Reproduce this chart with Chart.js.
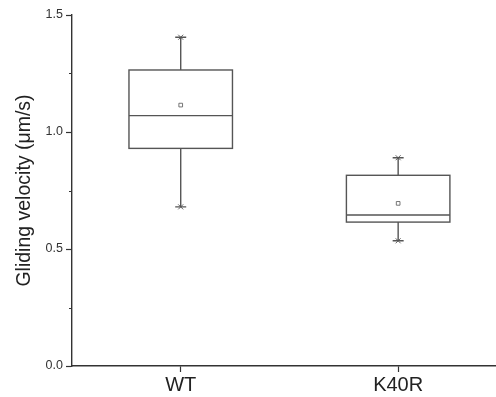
<!DOCTYPE html>
<html>
<head>
<meta charset="utf-8">
<script src="https://cdn.jsdelivr.net/npm/chart.js@4/dist/chart.umd.min.js"></script>
<style>
  html, body { margin: 0; padding: 0; background: #fff; overflow: hidden; }
  #wrap { width: 496px; height: 397px; }
  canvas { display: block; }
</style>
</head>
<body>
<div id="wrap"><canvas id="boxChart"></canvas></div>
<script>
// ── Data ──
const categories = ['WT', 'K40R'];
const minValues = [0.68, 0.535];
const q1Values = [0.93, 0.615];
const medianValues = [1.07, 0.645];
const q3Values = [1.265, 0.815];
const maxValues = [1.405, 0.89];
const meanValues = [1.115, 0.695];
const yTicks = [0.0, 0.5, 1.0, 1.5];
const yMinorTicks = [0.25, 0.75, 1.25];

const lineColor = '#555';
const axisColor = '#333';
const boxWidth = 0.476;   // in category units

// Draws box, median and whiskers through the chart scales
const boxPlotPlugin = {
    id: 'boxPlot',
    beforeDatasetsDraw(chart) {
        const { ctx, scales: { x, y } } = chart;
        ctx.save();
        ctx.strokeStyle = lineColor;
        ctx.lineWidth = 1.4;
        categories.forEach((cat, i) => {
            const cx = x.getPixelForValue(i + 1);
            const left = x.getPixelForValue(i + 1 - boxWidth / 2);
            const right = x.getPixelForValue(i + 1 + boxWidth / 2);
            const yq1 = y.getPixelForValue(q1Values[i]);
            const yq3 = y.getPixelForValue(q3Values[i]);
            const ymed = y.getPixelForValue(medianValues[i]);
            const ymin = y.getPixelForValue(minValues[i]);
            const ymax = y.getPixelForValue(maxValues[i]);

            ctx.strokeRect(left, yq3, right - left, yq1 - yq3);

            ctx.beginPath();
            ctx.moveTo(left, ymed); ctx.lineTo(right, ymed);
            // whiskers
            ctx.moveTo(cx, yq3); ctx.lineTo(cx, ymax);
            ctx.moveTo(cx, yq1); ctx.lineTo(cx, ymin);
            // caps
            ctx.moveTo(cx - 5.5, ymax); ctx.lineTo(cx + 5.5, ymax);
            ctx.moveTo(cx - 5.5, ymin); ctx.lineTo(cx + 5.5, ymin);
            ctx.stroke();

            // small crosses at min / max
            ctx.lineWidth = 0.9;
            ctx.beginPath();
            [ymin, ymax].forEach(py => {
                ctx.moveTo(cx - 2.5, py - 2.5); ctx.lineTo(cx + 2.5, py + 2.5);
                ctx.moveTo(cx - 2.5, py + 2.5); ctx.lineTo(cx + 2.5, py - 2.5);
            });
            ctx.stroke();
            ctx.lineWidth = 1.4;
        });

        // minor ticks on y axis
        ctx.strokeStyle = axisColor;
        ctx.lineWidth = 1;
        ctx.beginPath();
        yMinorTicks.forEach(v => {
            const py = Math.round(y.getPixelForValue(v)) + 0.5;
            ctx.moveTo(chart.chartArea.left - 3, py);
            ctx.lineTo(chart.chartArea.left, py);
        });
        ctx.stroke();
        ctx.restore();
    }
};

Chart.defaults.font.family = "'Liberation Sans', Arial, sans-serif";
Chart.defaults.color = '#222';

new Chart(document.getElementById('boxChart'), {
    type: 'scatter',
    data: {
        datasets: [{
            label: 'Mean',
            data: meanValues.map((v, i) => ({ x: i + 1, y: v })),
            pointStyle: 'rect',
            pointRadius: 2.6,
            pointBorderWidth: 0.9,
            pointBorderColor: '#666',
            pointBackgroundColor: '#fff'
        }]
    },
    options: {
        responsive: true,
        maintainAspectRatio: false,
        animation: false,
        layout: { autoPadding: false, padding: { top: 15, right: 0, left: 0, bottom: 0 } },
        plugins: {
            legend: { display: false },
            tooltip: { enabled: false }
        },
        scales: {
            x: {
                type: 'linear',
                min: 0.5,
                max: 2.45,
                afterBuildTicks: (axis) => {
                    axis.ticks = categories.map((c, i) => ({ value: i + 1 }));
                },
                afterFit: (axis) => { axis.height = 31; },
                ticks: {
                    callback: (v) => categories[v - 1] || '',
                    font: { size: 20 },
                    color: '#222',
                    padding: 1,
                    maxRotation: 0
                },
                grid: {
                    drawOnChartArea: false,
                    tickLength: 6,
                    tickColor: axisColor,
                    tickWidth: 1.2
                },
                border: { color: axisColor, width: 1.4 }
            },
            y: {
                min: 0,
                max: 1.5,
                afterBuildTicks: (axis) => {
                    axis.ticks = yTicks.map(v => ({ value: v }));
                },
                afterFit: (axis) => { axis.width = 72; },
                ticks: {
                    callback: (v) => v.toFixed(1),
                    font: { size: 12.5 },
                    color: '#333',
                    padding: 3
                },
                grid: {
                    drawOnChartArea: false,
                    tickLength: 6,
                    tickColor: axisColor,
                    tickWidth: 1.2
                },
                border: { color: axisColor, width: 1.4 },
                title: {
                    display: true,
                    text: 'Gliding velocity (μm/s)',
                    font: { size: 19.5 },
                    color: '#222',
                    padding: { top: 13, bottom: 0 }
                }
            }
        }
    },
    plugins: [boxPlotPlugin]
});
</script>
</body>
</html>
